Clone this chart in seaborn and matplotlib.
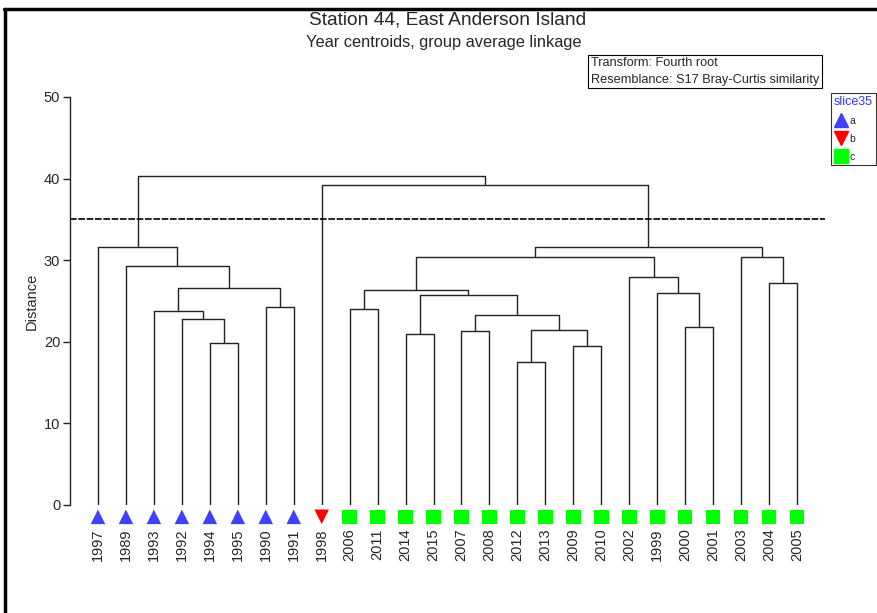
import numpy as np
import pandas as pd
import matplotlib
matplotlib.use('Agg')
import matplotlib.pyplot as plt
from matplotlib.lines import Line2D
import seaborn as sns

sns.set_style('ticks')
plt.rcParams['font.family'] = ['Liberation Sans', 'DejaVu Sans']

# leaf order as drawn, and group of each leaf
leaves = ['1997', '1989', '1993', '1992', '1994', '1995', '1990', '1991', '1998',
          '2006', '2011', '2014', '2015', '2007', '2008', '2012', '2013', '2009',
          '2010', '2002', '1999', '2000', '2001', '2003', '2004', '2005']
groups = ['a'] * 8 + ['b'] + ['c'] * 17

# merges: cNN refers to the NN-th merge in these lists
merge_left = ['1994', '1992', '1993', '1990', 'c2', '1989', '1997',
              '2012', '2009', 'c7', '2007', 'c10', '2014', 'c12', '2006', 'c14',
              '2000', '1999', '2002', 'c15', '2004', '2003', 'c19', '1998', 'c6']
merge_right = ['1995', 'c0', 'c1', '1991', 'c3', 'c4', 'c5',
               '2013', '2010', 'c8', '2008', 'c9', '2015', 'c11', '2011', 'c13',
               '2001', 'c16', 'c17', 'c18', '2005', 'c20', 'c21', 'c22', 'c23']
merge_height = [19.85, 22.75, 23.8, 24.25, 26.55, 29.3, 31.6,
                17.5, 19.5, 21.5, 21.3, 23.3, 20.95, 25.7, 24.0, 26.4,
                21.8, 26.0, 27.9, 30.4, 27.25, 30.45, 31.65, 39.2, 40.3]
cut_level = 35

group_colors = {'a': '#4040ff', 'b': '#ff0000', 'c': '#00ff00'}
group_markers = {'a': '^', 'b': 'v', 'c': 's'}

fig = plt.figure(figsize=(8.77, 6.13), dpi=100)
ax = fig.add_axes([70 / 877, 108 / 613, 755 / 877, 408 / 613])

# dendrogram coordinates
pos = {name: (i, 0.0) for i, name in enumerate(leaves)}
line_kw = dict(color='#222222', lw=1.0, solid_capstyle='butt')
for k, (l, r, h) in enumerate(zip(merge_left, merge_right, merge_height)):
    xl, yl = pos[l]
    xr, yr = pos[r]
    ax.plot([xl, xl, xr, xr], [yl, h, h, yr], **line_kw)
    pos[f'c{k}'] = ((xl + xr) / 2, h)

ax.axhline(cut_level, color='black', lw=1.2, ls=(0, (4, 1)))

df = pd.DataFrame({'year': leaves, 'group': groups, 'x': np.arange(len(leaves))})
df['y'] = -1.45
sns.scatterplot(data=df, x='x', y='y', hue='group', style='group',
                palette=group_colors, markers=group_markers, s=110,
                linewidth=0, legend=False, ax=ax, clip_on=False, zorder=3)

ax.set_xlim(-1, 26)
ax.set_ylim(0, 50)
ax.set_yticks([0, 10, 20, 30, 40, 50])
ax.tick_params(axis='y', labelsize=10.5, length=5, width=1, direction='out', pad=2)
ax.set_xticks(df['x'])
ax.set_xticklabels(leaves, rotation=90, fontsize=10.5)
ax.tick_params(axis='x', length=0, pad=17)
ax.set_xlabel('')
ax.set_ylabel('Distance', fontsize=10.5, labelpad=4)
for side in ['top', 'right', 'bottom']:
    ax.spines[side].set_visible(False)
ax.spines['left'].set_linewidth(1)

fig.text(448 / 877, 1 - 20 / 613, 'Station 44, East Anderson Island',
         ha='center', va='center', fontsize=13.8)
fig.text(444 / 877, 1 - 43 / 613, 'Year centroids, group average linkage',
         ha='center', va='center', fontsize=11.8)
fig.text(591 / 877, 1 - 71.5 / 613,
         'Transform: Fourth root\nResemblance: S17 Bray-Curtis similarity',
         ha='left', va='center', fontsize=9.2, linespacing=1.45,
         bbox=dict(boxstyle='square,pad=0.2', fc='white', ec='black', lw=0.8))

handles = [Line2D([], [], marker=group_markers[g], color=group_colors[g], ls='',
                  markersize=9.5) for g in ['a', 'b', 'c']]
leg = fig.legend(handles, ['a', 'b', 'c'], title='slice35', loc='upper left',
                 bbox_to_anchor=(831 / 877, 1 - 93 / 613), fontsize=7.5,
                 title_fontsize=9, frameon=True, fancybox=False,
                 borderpad=0.3, handletextpad=0.1, handlelength=1.4,
                 labelspacing=0.75, borderaxespad=0, alignment='left')
leg.get_title().set_color('#3333ff')
leg.get_frame().set_edgecolor('black')
leg.get_frame().set_linewidth(0.8)

# frame lines of the original page
fig.add_artist(Line2D([5 / 877, 5 / 877], [0, 1 - 9 / 613], color='black', lw=2.5))
fig.add_artist(Line2D([4 / 877, 1], [1 - 9 / 613, 1 - 9 / 613], color='black', lw=2.5))

fig.savefig('out.png', dpi=100)
